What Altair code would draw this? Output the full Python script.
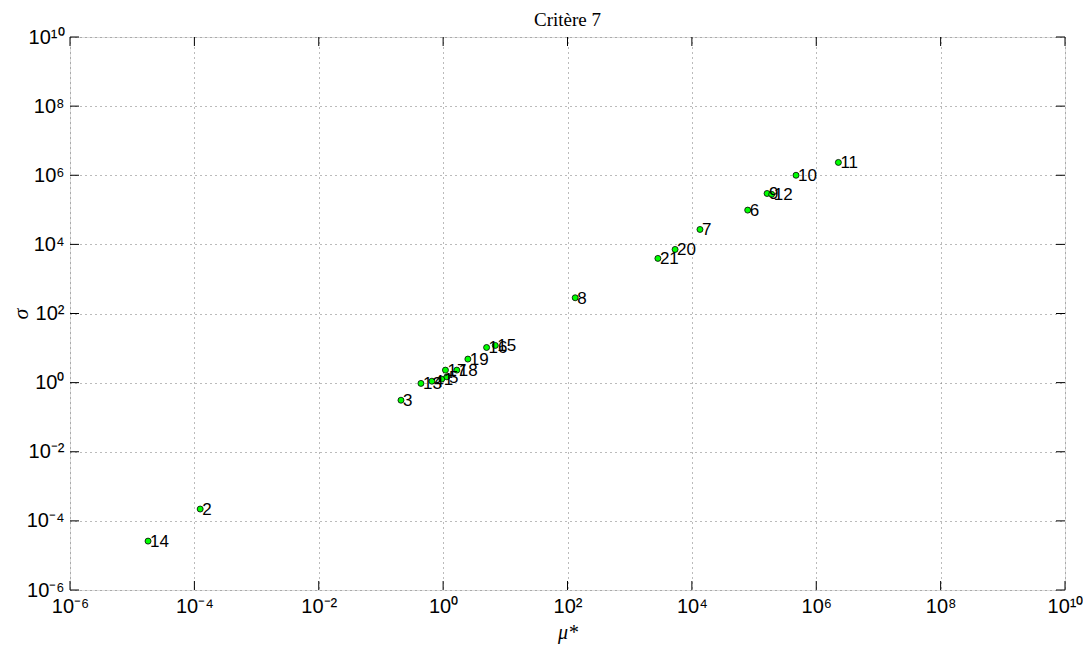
import altair as alt
import pandas as pd

labels = [str(i) for i in range(1, 22)]
mu = [0.95, 1.24e-4, 0.21, 0.66, 1.15, 7.9e4, 1.35e4, 133, 1.62e5, 4.73e5, 2.27e6,
      1.92e5, 0.44, 1.8e-5, 6.9, 5.0, 1.09, 1.66, 2.5, 5370, 2840]
sigma = [1.26, 2.2e-4, 0.31, 1.10, 1.47, 9.8e4, 2.7e4, 285, 2.97e5, 1.0e6, 2.35e6,
         2.8e5, 0.95, 2.6e-5, 11.9, 10.4, 2.3, 2.3, 4.8, 7140, 3930]

tick_vals = [1e-6, 1e-4, 1e-2, 1e0, 1e2, 1e4, 1e6, 1e8, 1e10]
tick_text = ['10⁻⁶', '10⁻⁴', '10⁻²', '10⁰', '10²', '10⁴', '10⁶', '10⁸', '10¹⁰']

df = pd.DataFrame({"label": labels, "mu": mu, "sigma": sigma})
ticks = pd.DataFrame({"v": tick_vals})

W, H = 995, 553
dom = [1e-6, 1e10]
label_expr = "[" + ",".join("'%s'" % t for t in tick_text) + "][round(log(datum.value)/LN10/2)+3]"

xscale = alt.Scale(type="log", domain=dom, nice=False)
yscale = alt.Scale(type="log", domain=dom, nice=False)

xaxis = alt.Axis(values=tick_vals, labelExpr=label_expr, title="μ*", grid=True,
                 gridDash=[1, 4], gridColor="#777", gridWidth=1, gridOpacity=1,
                 ticks=False, domain=False, labelFont="Liberation Sans", labelFontSize=20,
                 labelColor="black", labelPadding=6, labelBaseline="top",
                 titleFont="Liberation Serif", titleFontStyle="italic", titleFontWeight="normal",
                 titleFontSize=20, titleColor="black", titleBaseline="middle",
                 titleY=42, labelFlush=False)
yaxis = alt.Axis(values=tick_vals, labelExpr=label_expr, title="σ", grid=True,
                 gridDash=[1, 4], gridColor="#777", gridWidth=1, gridOpacity=1,
                 ticks=False, domain=False, labelFont="Liberation Sans", labelFontSize=20,
                 labelColor="black", labelPadding=6, labelFlush=False,
                 titleFont="Liberation Serif", titleFontStyle="italic", titleFontWeight="normal",
                 titleFontSize=22, titleColor="black", titleBaseline="middle",
                 titleX=-50, titleY=H / 2)

base = alt.Chart(df)

points = base.mark_point(filled=True, shape="circle", size=36, fill="#00ff00",
                         stroke="black", strokeWidth=0.8, opacity=1).encode(
    x=alt.X("mu:Q", scale=xscale, axis=xaxis),
    y=alt.Y("sigma:Q", scale=yscale, axis=yaxis),
)

texts = base.mark_text(align="left", baseline="middle", dx=2, dy=1, fontSize=17,
                       font="Liberation Sans", color="black").encode(
    x=alt.X("mu:Q", scale=xscale),
    y=alt.Y("sigma:Q", scale=yscale),
    text="label:N",
)

tk = alt.Chart(ticks)
xt_bot = tk.mark_rule(color="black", strokeWidth=1).encode(
    x=alt.X("v:Q", scale=xscale), y=alt.value(H), y2=alt.value(H - 9))
xt_top = tk.mark_rule(color="black", strokeWidth=1).encode(
    x=alt.X("v:Q", scale=xscale), y=alt.value(0), y2=alt.value(9))
yt_left = tk.mark_rule(color="black", strokeWidth=1).encode(
    y=alt.Y("v:Q", scale=yscale), x=alt.value(0), x2=alt.value(9))
yt_right = tk.mark_rule(color="black", strokeWidth=1).encode(
    y=alt.Y("v:Q", scale=yscale), x=alt.value(W), x2=alt.value(W - 9))

chart = alt.layer(xt_bot, xt_top, yt_left, yt_right, points, texts).properties(
    width=W, height=H,
    title=alt.TitleParams("Critère 7", font="Liberation Serif", fontSize=19,
                          fontWeight="normal", color="black", offset=4, dy=7),
    autosize=alt.AutoSizeParams(type="none"),
    padding={"left": 62, "top": 29, "right": 18, "bottom": 55},
).configure_view(stroke="black", strokeWidth=1).configure(background="white")

chart.save("out.html", embed_options={"renderer": "svg", "actions": False})
